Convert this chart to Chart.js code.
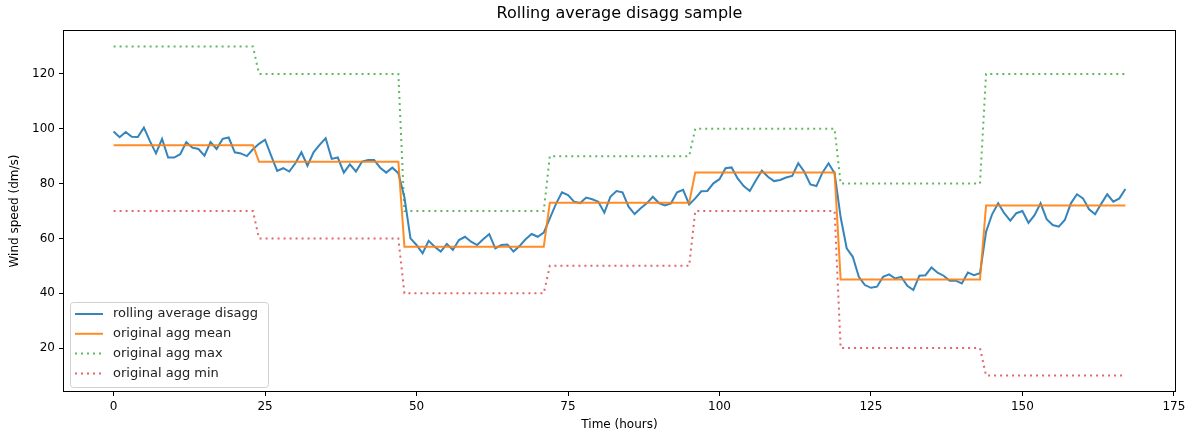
<!DOCTYPE html>
<html>
<head>
<meta charset="utf-8">
<script src="https://cdn.jsdelivr.net/npm/chart.js@4"></script>
<style>
  body { margin: 0; background: #fff; }
  #wrap { width: 1192px; height: 436px; }
</style>
</head>
<body>
<div id="wrap"><canvas id="chart" width="1192" height="436"></canvas></div>
<script>
// ===== Data =====
const rollingAvg = [
  99.0, 96.9, 98.8, 97.1, 97.0, 100.4, 95.5, 91.0, 96.3, 89.5, 89.5, 90.7,
  95.1, 93.1, 92.6, 90.2, 95.1, 92.6, 96.3, 96.8, 91.4, 91.0, 90.0, 92.5,
  94.5, 96.0, 90.2, 84.6, 85.6, 84.4, 87.4, 91.4, 86.5, 91.4, 94.1, 96.5,
  89.0, 89.5, 84.0, 87.0, 84.4, 88.0, 88.6, 88.6, 85.8, 84.0, 85.8, 83.8,
  75.0, 60.0, 57.6, 54.6, 59.1, 57.0, 55.2, 58.0, 55.8, 59.4, 60.6, 58.8,
  57.6, 59.7, 61.6, 56.4, 57.6, 57.8, 55.2, 57.2, 59.7, 61.6, 60.6, 62.1,
  67.3, 72.5, 76.8, 75.8, 73.4, 72.9, 74.9, 74.3, 73.4, 69.4, 75.2, 77.3,
  76.8, 71.6, 68.9, 71.0, 72.8, 75.2, 72.9, 72.0, 72.8, 76.8, 77.7, 72.4,
  74.6, 77.2, 77.3, 80.1, 81.6, 85.6, 85.9, 81.9, 79.1, 77.3, 81.1, 84.7,
  82.5, 80.9, 81.3, 82.2, 82.8, 87.4, 84.3, 79.7, 79.1, 84.0, 87.4, 83.8,
  67.7, 56.4, 53.3, 46.0, 43.0, 42.0, 42.4, 46.0, 46.9, 45.4, 46.0, 42.7,
  41.2, 46.4, 46.6, 49.4, 47.5, 46.4, 44.6, 44.6, 43.6, 47.6, 46.6, 47.3,
  62.4, 68.8, 72.8, 69.2, 66.5, 69.2, 70.0, 65.7, 68.5, 72.8, 67.0, 64.9,
  64.3, 66.7, 72.8, 76.1, 74.6, 70.6, 68.8, 72.6, 76.1, 73.4, 74.6, 78.0
];
// one value per 24 h block
const aggMean = [94, 88, 57, 73, 84, 45, 72];
const aggMax = [130, 120, 70, 90, 100, 80, 120];
const aggMin = [70, 60, 40, 50, 70, 20, 10];
const hoursPerBlock = 24;

const xTicks = [0, 25, 50, 75, 100, 125, 150, 175];
const yTicks = [20, 40, 60, 80, 100, 120];

const seriesLabels = ['rolling average disagg', 'original agg mean', 'original agg max', 'original agg min'];

// ===== Build hourly points =====
const rollingPts = rollingAvg.map((v, i) => ({ x: i, y: v }));
function expandBlocks(blocks) {
  const pts = [];
  blocks.forEach((v, b) => {
    for (let h = 0; h < hoursPerBlock; h++) pts.push({ x: b * hoursPerBlock + h, y: v });
  });
  return pts;
}

const FONT = 'DejaVu Sans';
const BLUE = 'rgba(31,119,180,0.9)', ORANGE = 'rgba(255,127,14,0.9)';
const GREEN = 'rgba(44,160,44,0.75)', RED = 'rgba(214,39,40,0.7)';
const DOT = [2, 4];

// ===== Frame, title and legend plugin =====
const framePlugin = {
  id: 'frame',
  afterDraw(chart) {
    const { ctx, chartArea: a } = chart;
    ctx.save();
    ctx.strokeStyle = '#000';
    ctx.lineWidth = 1;
    ctx.strokeRect(a.left + 0.5, a.top + 0.5, a.right - a.left - 1, a.bottom - a.top - 1);

    // title
    ctx.fillStyle = '#000';
    ctx.font = `16px "${FONT}"`;
    ctx.textAlign = 'center';
    ctx.textBaseline = 'middle';
    ctx.fillText('Rolling average disagg sample', (a.left + a.right) / 2, 14);

    // legend
    const bx = 70, by = 302, bw = 198, bh = 85;
    ctx.fillStyle = 'rgba(255,255,255,0.85)';
    ctx.strokeStyle = '#d0d0d0';
    ctx.beginPath();
    ctx.roundRect(bx + 0.5, by + 0.5, bw, bh, 3);
    ctx.fill();
    ctx.stroke();

    ctx.font = `13px "${FONT}"`;
    ctx.textAlign = 'left';
    chart.data.datasets.forEach((ds, i) => {
      const y = by + 12 + i * 19.8;
      ctx.strokeStyle = ds.borderColor;
      ctx.lineWidth = ds.borderWidth;
      ctx.setLineDash(ds.borderDash || []);
      ctx.beginPath();
      ctx.moveTo(75, y);
      ctx.lineTo(103, y);
      ctx.stroke();
      ctx.setLineDash([]);
      ctx.fillStyle = '#222';
      ctx.fillText(ds.label, 113, y);
    });
    ctx.restore();
  }
};

const tickFont = { family: FONT, size: 12 };

new Chart(document.getElementById('chart'), {
  type: 'line',
  data: {
    datasets: [
      { label: seriesLabels[0], data: rollingPts, borderColor: BLUE, borderWidth: 2, order: 4 },
      { label: seriesLabels[1], data: expandBlocks(aggMean), borderColor: ORANGE, borderWidth: 2, order: 3 },
      { label: seriesLabels[2], data: expandBlocks(aggMax), borderColor: GREEN, borderWidth: 2, borderDash: DOT, order: 2 },
      { label: seriesLabels[3], data: expandBlocks(aggMin), borderColor: RED, borderWidth: 2, borderDash: DOT, order: 1 },
    ],
  },
  options: {
    responsive: false,
    animation: false,
    devicePixelRatio: 1,
    layout: { padding: { top: 30, right: 16, left: 0, bottom: 0 } },
    elements: { point: { radius: 0 }, line: { tension: 0, borderCapStyle: 'butt' } },
    plugins: { legend: { display: false }, tooltip: { enabled: false } },
    scales: {
      x: {
        type: 'linear',
        min: -8.35,
        max: 175.35,
        afterBuildTicks: (s) => { s.ticks = xTicks.map((v) => ({ value: v })); },
        afterFit: (s) => { s.height = 44; },
        grid: { drawOnChartArea: false, drawTicks: true, tickLength: 4, color: '#000' },
        border: { display: false },
        ticks: { color: '#000', font: tickFont, padding: 4, maxRotation: 0, autoSkip: false },
        title: { display: true, text: 'Time (hours)', color: '#000', font: tickFont, padding: { top: 2, bottom: 4 } },
      },
      y: {
        min: 4,
        max: 136,
        afterBuildTicks: (s) => { s.ticks = yTicks.map((v) => ({ value: v })); },
        afterFit: (s) => { s.width = 63; },
        grid: { drawOnChartArea: false, drawTicks: true, tickLength: 4, color: '#000' },
        border: { display: false },
        ticks: { color: '#000', font: tickFont, padding: 4 },
        title: { display: true, text: 'Wind speed (dm/s)', color: '#000', font: tickFont, padding: { top: 8, bottom: 2 } },
      },
    },
  },
  plugins: [framePlugin],
});
</script>
</body>
</html>
